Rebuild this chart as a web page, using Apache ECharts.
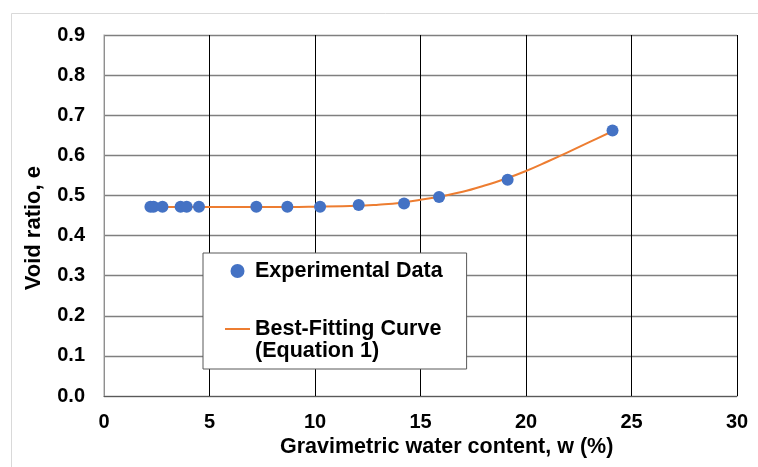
<!DOCTYPE html>
<html>
<head>
<meta charset="utf-8">
<script src="https://cdn.jsdelivr.net/npm/echarts@6/dist/echarts.min.js"></script>
<style>
html,body{margin:0;padding:0;background:#fff;}
#chart{width:758px;height:467px;}
</style>
</head>
<body>
<div id="chart"></div>
<script>
// Experimental data
var expW = [2.2, 2.35, 2.77, 3.63, 3.92, 4.5, 7.22, 8.69, 10.24, 12.07, 14.22, 15.88, 19.13, 24.1];
var expE = [0.472, 0.472, 0.472, 0.472, 0.472, 0.472, 0.472, 0.472, 0.472, 0.476, 0.480, 0.496, 0.539, 0.662];
// Best-fitting curve
var fitW = [2.2, 4, 6, 8, 10, 12, 13, 14, 15, 16, 17, 18, 19, 20, 21, 22, 23, 24.1];
var fitE = [0.471, 0.471, 0.471, 0.471, 0.472, 0.474, 0.477, 0.481, 0.489, 0.498, 0.509, 0.524, 0.541, 0.561, 0.584, 0.608, 0.633, 0.660];
var xTicks = [0, 5, 10, 15, 20, 25, 30];
var yTicks = [0.0, 0.1, 0.2, 0.3, 0.4, 0.5, 0.6, 0.7, 0.8, 0.9];

var FONT = '"Liberation Sans", Arial, sans-serif';
var chart = echarts.init(document.getElementById('chart'));
var expData = expW.map(function (w, i) { return [w, expE[i]]; });
var fitData = fitW.map(function (w, i) { return [w, fitE[i]]; });

chart.setOption({
  animation: false,
  backgroundColor: '#fff',
  grid: { left: 104, top: 35, right: 21, bottom: 71, containLabel: false },
  xAxis: {
    type: 'value', min: xTicks[0], max: xTicks[xTicks.length - 1], interval: 5,
    axisLine: { show: true, lineStyle: { color: '#595959', width: 1 } },
    axisTick: { show: false },
    axisLabel: { color: '#000', fontWeight: 'bold', fontSize: 20, fontFamily: FONT, margin: 16 },
    splitLine: { show: true, lineStyle: { color: '#000', width: 1 } }
  },
  yAxis: {
    type: 'value', min: yTicks[0], max: yTicks[yTicks.length - 1], interval: 0.1,
    axisLine: { show: true, lineStyle: { color: '#bfbfbf', width: 1.5 } },
    axisTick: { show: false },
    axisLabel: { color: '#000', fontWeight: 'bold', fontSize: 20, fontFamily: FONT, margin: 19,
      formatter: function (v) { return v.toFixed(1); } },
    splitLine: { show: true, lineStyle: { color: '#7f7f7f', width: 1.3 } }
  },
  legend: {
    orient: 'vertical', left: 203, top: 253,
    padding: [7, 24, 29, 22],
    itemGap: 36, itemWidth: 25, itemHeight: 14,
    backgroundColor: '#fff', borderColor: '#595959', borderWidth: 1,
    textStyle: { color: '#000', fontWeight: 'bold', fontSize: 21.5, fontFamily: FONT, lineHeight: 22 },
    data: [
      { name: 'Experimental Data', icon: 'circle' },
      { name: 'Best-Fitting Curve', icon: 'path://M0,0 L25,0 L25,2 L0,2 Z' }
    ]
  },
  graphic: [
    { type: 'rect', left: 9, top: 11, z: -10, silent: true,
      shape: { width: 760, height: 470 },
      style: { fill: 'none', stroke: '#d9d9d9', lineWidth: 1 } },
    { type: 'text', left: 255, top: 340, z: 100,
      style: { text: '(Equation 1)', fill: '#000', font: 'bold 21.5px ' + FONT } },
    { type: 'text', left: 280, top: 436,
      style: { text: 'Gravimetric water content, w (%)', fill: '#000', font: 'bold 21.5px ' + FONT } },
    { type: 'text', left: 23, top: 166, rotation: Math.PI / 2,
      style: { text: 'Void ratio, e', fill: '#000', font: 'bold 22px ' + FONT } }
  ],
  series: [
    {
      name: 'Best-Fitting Curve', type: 'line', data: fitData, smooth: 0.4,
      showSymbol: false, symbol: 'none', z: 2,
      lineStyle: { color: '#ED7D31', width: 2 }, itemStyle: { color: '#ED7D31' }
    },
    {
      name: 'Experimental Data', type: 'scatter', data: expData, symbolSize: 12, z: 3,
      itemStyle: { color: '#4472C4', opacity: 1 }
    }
  ]
});
</script>
</body>
</html>
